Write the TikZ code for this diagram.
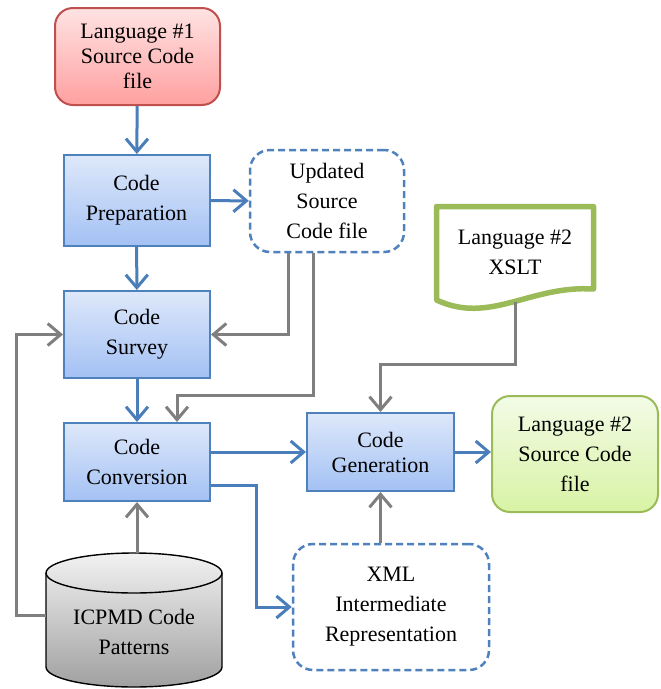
\documentclass[tikz,border=0pt]{standalone}
\usepackage{fontspec}
\setmainfont{Liberation Serif}
\usetikzlibrary{arrows.meta}
\definecolor{boxblue}{HTML}{4F81BD}
\definecolor{lineblue}{HTML}{4A7EBB}
\definecolor{linegray}{HTML}{7F7F7F}
\definecolor{blueTop}{HTML}{DEE8FA}
\definecolor{blueBot}{HTML}{A3C1F4}
\definecolor{redTop}{HTML}{FFE3E3}
\definecolor{redBot}{HTML}{FFA0A0}
\definecolor{redLine}{HTML}{C0504D}
\definecolor{greenTop}{HTML}{F3FBE6}
\definecolor{greenBot}{HTML}{D8F3A5}
\definecolor{greenLine}{HTML}{9BBB59}
\definecolor{dbTop}{HTML}{F2F2F2}
\definecolor{dbBot}{HTML}{A0A0A0}
\begin{document}
\begin{tikzpicture}[x=1pt,y=-1pt,
    font=\fontsize{22}{30}\selectfont,
    every node/.style={align=center,inner sep=0pt},
    codebox/.style={draw=boxblue,line width=2pt,top color=blueTop,bottom color=blueBot,minimum width=146pt},
    filebox/.style={draw=boxblue,line width=2.5pt,dash pattern=on 7pt off 4pt,rounded corners=20pt,fill=white},
    flow/.style={draw=lineblue,line width=3pt,-{Straight Barb[length=13pt,width=22pt]}},
    feed/.style={flow,draw=linegray}]
  \useasboundingbox (0,0) rectangle (661,689);

  % sources and results
  \node[draw=redLine,line width=2pt,rounded corners=18pt,top color=redTop,bottom color=redBot,
        minimum width=165pt,minimum height=97pt,font=\fontsize{22}{25}\selectfont]
        at (137.5,56.5) (lang1) {Language \#1\\Source Code\\file};
  \node[draw=greenLine,line width=2pt,rounded corners=18pt,top color=greenTop,bottom color=greenBot,
        minimum width=166pt,minimum height=116pt] at (575,454) (lang2) {Language \#2\\Source Code\\file};
  \draw[draw=greenLine,line width=5.5pt,fill=white,line join=round]
    (436.5,300) -- (436.5,206.5) -- (593.5,206.5) -- (593.5,289)
    .. controls (530,285) and (490,325) .. (436.5,300) -- cycle;
  \node at (515,252) (xslt) {Language \#2\\XSLT};
  \coordinate (xsltout) at (515,302);

  % processing steps
  \node[codebox,minimum height=91pt] at (136.5,200.5) (prep) {Code\\Preparation};
  \node[codebox,minimum height=87pt] at (137,334.5) (survey) {Code\\Survey};
  \node[codebox,minimum height=78pt] at (137,462) (conv) {Code\\Conversion};
  \node[codebox,minimum width=147pt,minimum height=78pt,font=\fontsize{22}{25}\selectfont]
        at (380.5,452) (gen) {Code\\Generation};

  % intermediate files
  \node[filebox,minimum width=154pt,minimum height=102pt] at (327,201) (updated) {Updated\\Source\\Code file};
  \node[filebox,minimum width=196pt,minimum height=126pt] at (391,607) (xml) {XML\\Intermediate\\Representation};

  % pattern store
  \draw[draw=black,line width=1.4pt,top color=dbTop,bottom color=dbBot]
    (46,573) -- (46,667) arc[x radius=88,y radius=20,start angle=180,end angle=0]
    -- (222,573) arc[x radius=88,y radius=20,start angle=0,end angle=-180] -- cycle;
  \draw[line width=1.4pt] (46,573) arc[x radius=88,y radius=20,start angle=180,end angle=0];
  \node[minimum width=176pt,minimum height=134pt] at (134,620) (db) {};
  \node at (134,632) (dbtext) {ICPMD Code\\Patterns};

  \path[flow] (lang1) -- (prep);
  \path[flow] (prep) -- (updated);
  \path[flow] (prep) -- (survey);
  \path[flow] (survey) -- (conv);
  \path[flow] (conv.east |- gen.west) -- (gen.west);
  \path[flow] ([yshift=-23pt]conv.east) -- ++(45,0) |- (xml.west);
  \path[flow] (gen.east) -- (gen.east -| lang2.west);

  \path[feed] ([xshift=-39pt]updated.south) |- (survey.east);
  \path[feed] ([xshift=-14pt]updated.south) -- ++(0,142) -| ([xshift=40pt]conv.north);
  \path[feed] (xsltout) -- ++(0,62) -| (gen.north);
  \path[feed] (gen.south |- xml.north) -- (gen.south);
  \path[feed] (conv.south |- db.north) -- (conv.south);
  \path[feed] ([yshift=5pt]db.west) -- ++(-29,0) |- (survey.west);
\end{tikzpicture}
\end{document}
